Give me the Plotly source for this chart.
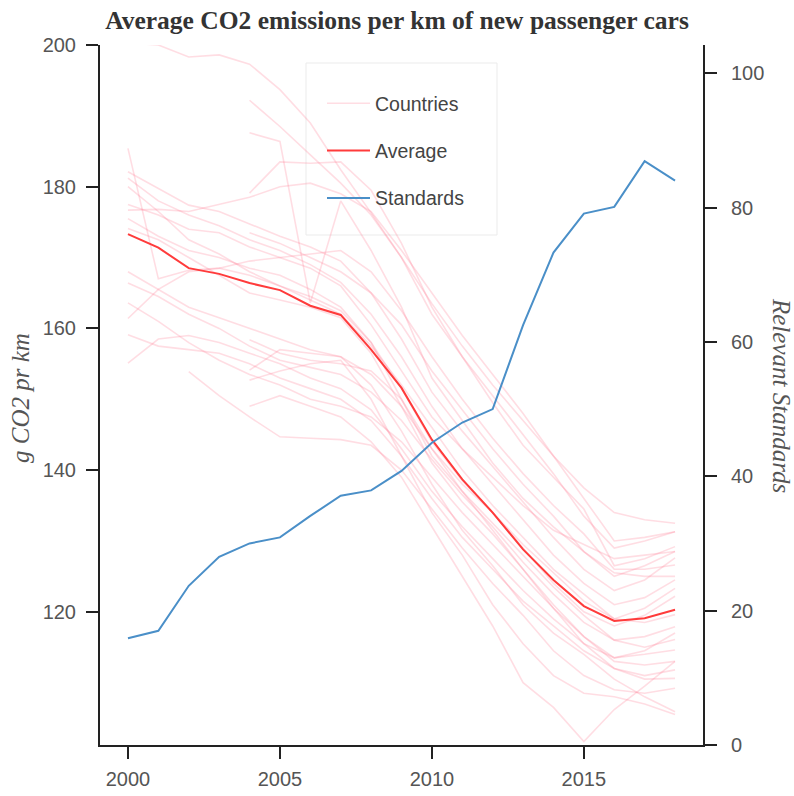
import plotly.graph_objects as go

years = list(range(2000, 2019))

# Average emissions across countries (g CO2 per km)
average = [173.3, 171.4, 168.5, 167.7, 166.4, 165.4, 163.2, 161.9, 157.0, 151.6,
           144.3, 138.7, 134.0, 128.8, 124.5, 120.8, 118.7, 119.1, 120.3]

# Number of relevant standards in force
standards = [15.9, 17.0, 23.7, 28.0, 30.0, 30.9, 34.1, 37.1, 37.9, 40.8,
             45.0, 48.0, 50.0, 62.5, 73.3, 79.1, 80.1, 86.9, 84.0]

# Per-country emissions (g CO2 per km); None where no data reported
countries = {
    "A": [200.3, 200.0, 198.3, 198.6, 197.3, 193.7, 189.0, 182.4, 176.3, 170.0, 163.5, 157.5, 152.0, 147.0, 142.0, 137.5, 134.0, 133.0, 132.5],
    "B": [None, None, None, None, 192.2, 188.5, 184.5, 180.5, 176.0, 170.0, 162.0, 156.0, 150.5, 145.0, 139.5, 133.5, 129.0, 130.0, 131.3],
    "C": [None, None, None, None, 187.6, 186.4, 163.6, 178.0, 171.0, 163.0, 153.0, 147.0, 141.0, 136.0, 132.0, 128.5, 125.0, 126.5, 128.5],
    "D": [None, None, None, None, 179.1, 183.5, 183.3, 183.5, 179.5, 172.0, 163.0, 156.0, 149.5, 143.5, 139.0, 134.5, 126.5, 127.5, 129.2],
    "E": [185.4, 167.0, 168.2, 168.5, 167.5, 166.0, 164.0, 162.0, 157.5, 152.0, 146.0, 140.0, 135.0, 130.5, 126.0, 122.5, 119.0, 118.5, 119.6],
    "F": [182.1, 179.8, 177.4, 176.5, 174.8, 173.0, 171.5, 169.5, 165.0, 158.5, 151.0, 145.5, 140.5, 135.5, 130.5, 126.0, 123.0, 124.5, 127.6],
    "G": [181.2, 178.0, 176.0, 174.5, 172.5, 171.0, 169.0, 166.5, 162.0, 156.0, 149.0, 143.0, 138.0, 133.0, 128.0, 124.0, 121.0, 122.0, 124.5],
    "H": [180.0, 176.5, 172.5, 170.5, 168.0, 166.0, 164.5, 162.5, 158.0, 151.5, 144.0, 138.5, 134.0, 129.0, 124.0, 120.0, 118.0, 119.5, 122.2],
    "I": [176.7, 176.8, 176.5, 177.5, 178.5, 180.0, 180.5, 179.0, 176.5, 171.0, 165.0, 159.0, 153.5, 148.0, 142.0, 136.0, 130.0, 130.5, 131.3],
    "J": [175.5, 173.0, 171.0, 170.0, 168.5, 167.5, 165.5, 163.0, 158.0, 150.0, 142.0, 137.0, 132.5, 128.0, 123.5, 119.5, 116.0, 116.5, 117.9],
    "K": [174.1, 172.5, 170.0, 167.5, 165.0, 164.0, 163.0, 161.5, 156.5, 149.0, 141.0, 135.5, 131.0, 126.0, 121.0, 116.5, 113.5, 114.0, 114.6],
    "L": [177.5, 176.0, 174.0, 173.5, 171.5, 170.0, 168.5, 166.0, 160.5, 154.0, 147.5, 143.0, 139.0, 135.0, 131.5, 129.5, 127.5, 128.0, 128.5],
    "M": [168.0, 165.5, 163.0, 161.5, 160.0, 158.5, 157.0, 156.0, 153.5, 149.0, 143.0, 138.0, 134.0, 129.5, 125.5, 121.5, 119.0, 120.5, 123.3],
    "N": [166.4, 164.5, 162.0, 160.0, 157.5, 155.5, 154.5, 153.5, 151.0, 147.0, 141.5, 136.5, 132.0, 127.0, 122.5, 118.5, 116.0, 115.0, 116.1],
    "O": [163.6, 161.0, 158.0, 155.5, 153.5, 152.0, 150.0, 149.0, 147.5, 144.0, 139.0, 134.0, 129.5, 125.0, 120.5, 116.5, 113.0, 112.5, 113.0],
    "P": [161.4, 165.5, 168.0, 168.5, 169.5, 170.0, 170.5, 171.0, 168.0, 162.5, 156.0, 150.0, 144.5, 139.5, 135.0, 131.0, 126.0, 126.0, 126.6],
    "Q": [159.1, 157.5, 157.0, 156.5, 155.0, 153.0, 151.5, 150.0, 147.0, 142.0, 136.0, 130.5, 126.0, 121.5, 118.0, 114.5, 112.0, 111.0, 111.8],
    "R": [155.1, 158.5, 159.0, 158.0, 156.5, 155.0, 153.0, 151.5, 148.5, 143.0, 137.0, 132.0, 127.5, 123.0, 119.0, 115.5, 113.5, 114.5, 117.0],
    "S": [None, None, 153.9, 150.5, 147.5, 144.7, 144.5, 144.3, 143.5, 140.0, 134.5, 129.0, 124.0, 119.5, 114.5, 111.0, 109.0, 108.5, 109.2],
    "T": [None, None, None, None, 173.5, 172.0, 170.0, 168.0, 165.0, 160.5, 154.0, 148.5, 143.0, 138.0, 133.5, 128.5, 125.5, 125.0, 125.0],
    "U": [None, None, None, None, 158.4, 156.5, 155.5, 155.0, 154.0, 150.0, 143.0, 137.0, 131.5, 126.0, 120.5, 115.5, 112.0, 110.5, 110.6],
    "V": [None, None, None, None, 154.1, 157.0, 156.5, 156.0, 152.0, 145.5, 138.0, 131.5, 126.5, 121.0, 117.0, 114.0, 110.5, 108.0, 105.9],
    "W": [None, None, None, None, 152.7, 154.0, 155.0, 155.5, 150.0, 142.0, 134.0, 128.0, 121.0, 115.5, 111.0, 108.5, 108.0, 107.0, 105.5],
    "X": [None, None, None, None, 149.0, 150.5, 149.0, 147.5, 144.0, 139.0, 132.0, 125.0, 118.0, 110.0, 106.5, 101.7, 106.2, 109.5, 113.0],
}

x_ticks = [2000, 2005, 2010, 2015]
left_ticks = [120, 140, 160, 180, 200]
right_ticks = [0, 20, 40, 60, 80, 100]

COUNTRY_COLOR = "rgba(255, 125, 145, 0.26)"
AVG_COLOR = "#ff3b3b"
STD_COLOR = "#4a8fc8"
AXIS_COLOR = "#222222"
LABEL_COLOR = "#555555"
SANS = "Liberation Sans, Arial, sans-serif"
SERIF = "Liberation Serif, Times New Roman, serif"

fig = go.Figure()

for i, (name, vals) in enumerate(countries.items()):
    fig.add_trace(go.Scatter(
        x=years, y=vals, mode="lines", name="Countries",
        line=dict(color=COUNTRY_COLOR, width=1.6),
        legendgroup="countries", showlegend=(i == 0),
        connectgaps=False, hoverinfo="skip",
    ))

fig.add_trace(go.Scatter(
    x=years, y=average, mode="lines", name="Average",
    line=dict(color=AVG_COLOR, width=2), legendgroup="average",
))

fig.add_trace(go.Scatter(
    x=years, y=standards, mode="lines", name="Standards",
    line=dict(color=STD_COLOR, width=2), legendgroup="standards",
    yaxis="y2",
))

axis_common = dict(
    showline=True, linecolor=AXIS_COLOR, linewidth=2,
    ticks="outside", ticklen=12, tickwidth=2, tickcolor=AXIS_COLOR,
    showgrid=False, zeroline=False, automargin=False,
    tickfont=dict(family=SANS, size=20, color=LABEL_COLOR),
)

fig.update_layout(
    width=794, height=796,
    margin=dict(l=100, r=91, t=45, b=51, autoexpand=False),
    paper_bgcolor="white", plot_bgcolor="white",
    title=dict(
        text="<b>Average CO2 emissions per km of new passenger cars</b>",
        font=dict(family=SERIF, size=25.5, color="#333333"),
        x=0.5, xref="container", xanchor="center",
        y=1 - 20 / 796, yref="container", yanchor="middle",
    ),
    xaxis=dict(range=[1999.08, 2018.92], tickvals=x_ticks,
               ticklabelstandoff=3, **axis_common),
    yaxis=dict(range=[101.2, 200], tickvals=left_ticks,
               ticklabelstandoff=6, **axis_common),
    yaxis2=dict(range=[0, 104.2], tickvals=right_ticks, overlaying="y",
                side="right", ticklabelstandoff=10, **axis_common),
    legend=dict(
        x=(322 - 100) / 603, y=(745 - 84) / 700, xanchor="left", yanchor="top",
        bgcolor="rgba(0,0,0,0)", borderwidth=0,
        font=dict(family=SANS, size=19.5, color="#444444"),
        itemwidth=43, traceorder="grouped", tracegroupgap=19,
    ),
    shapes=[dict(
        type="rect", xref="paper", yref="paper",
        x0=(306 - 100) / 603, x1=(497 - 100) / 603,
        y0=(745 - 235) / 700, y1=(745 - 63) / 700,
        line=dict(color="#ebebeb", width=1), fillcolor="rgba(255,255,255,0.6)",
        layer="below",
    )],
    annotations=[
        dict(text="<i>g CO2 pr km</i>", xref="paper", yref="paper",
             x=(21 - 100) / 603, y=(745 - 398) / 700, showarrow=False,
             xanchor="center", yanchor="middle",
             textangle=-90, font=dict(family=SERIF, size=25, color=LABEL_COLOR)),
        dict(text="<i>Relevant Standards</i>", xref="paper", yref="paper",
             x=(782 - 100) / 603, y=(745 - 395) / 700, showarrow=False,
             xanchor="center", yanchor="middle",
             textangle=90, font=dict(family=SERIF, size=25, color=LABEL_COLOR)),
    ],
)

fig.write_html("out.html")
